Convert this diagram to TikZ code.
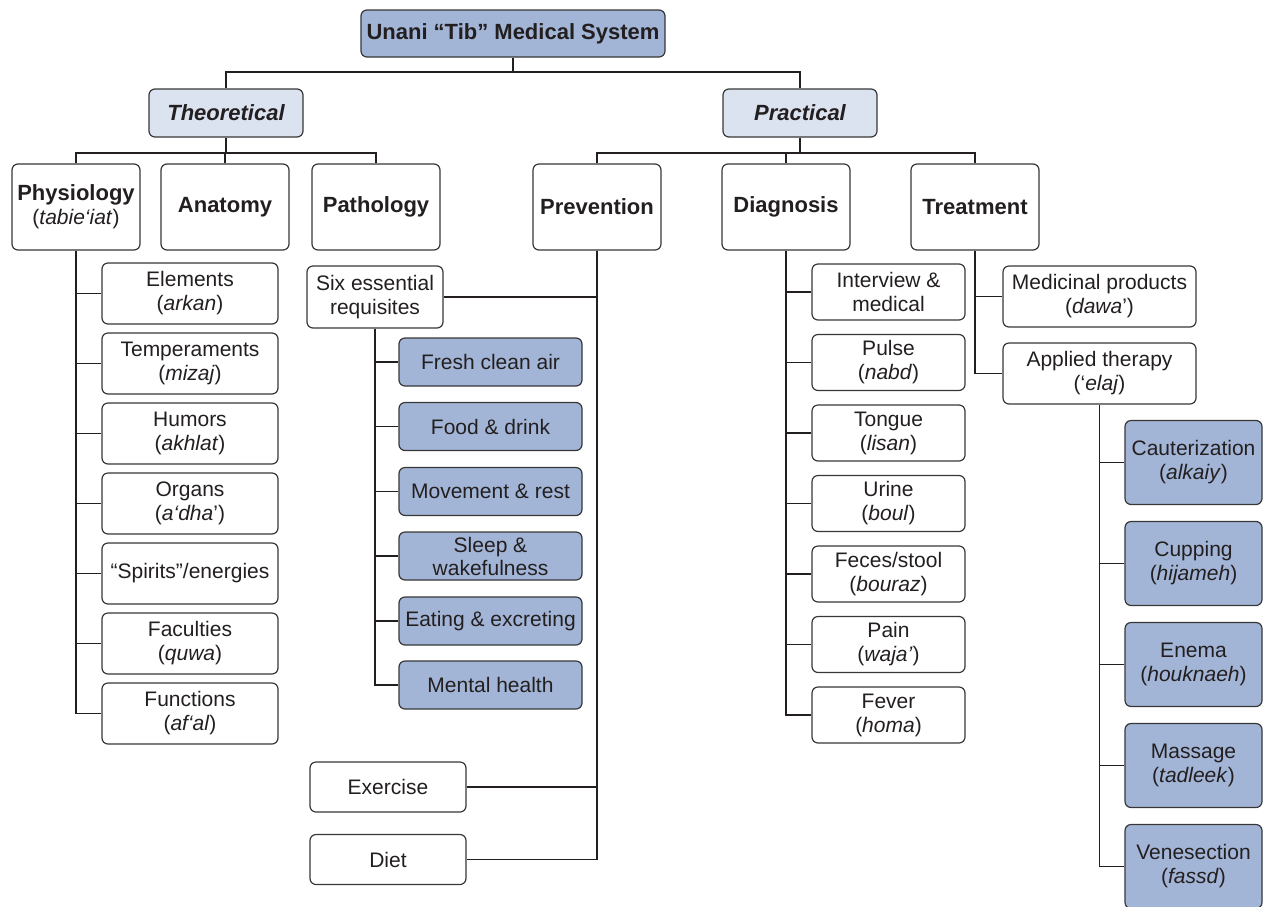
\documentclass[tikz,border=0pt]{standalone}
\usepackage{fontspec}
\setmainfont{Liberation Sans}
\definecolor{midblue}{RGB}{163,181,214}
\definecolor{paleblue}{RGB}{220,227,240}
\definecolor{boxline}{RGB}{55,55,55}
\definecolor{ink}{RGB}{35,31,32}
\begin{document}
\begin{tikzpicture}[x=1pt,y=-1pt,
  box/.style={draw=boxline, line width=1.2pt, rounded corners=6pt, fill=white,
    align=center, inner sep=1pt, text=ink, font=\fontsize{21}{24}\selectfont},
  head/.style={box, font=\bfseries\fontsize{22}{25}\selectfont},
  branch/.style={head, fill=paleblue, minimum width=154pt, minimum height=48pt,
    font=\bfseries\itshape\fontsize{22}{25}\selectfont},
  cat/.style={head, minimum width=128pt, minimum height=86pt},
  physbox/.style={box, minimum width=176pt, minimum height=61pt},
  reqbox/.style={box, fill=midblue, minimum width=183pt, minimum height=48pt},
  prevbox/.style={box, minimum width=156pt, minimum height=50pt},
  diagbox/.style={box, minimum width=153pt, minimum height=56pt},
  treatbox/.style={box, minimum width=193pt, minimum height=61pt},
  therbox/.style={box, fill=midblue, minimum width=137pt, minimum height=84pt},
  conn/.style={draw=ink, line width=1.8pt}
]
\useasboundingbox (0,0) rectangle (1263,906);

% root and the two branches
\node[head, fill=midblue, minimum width=304pt, minimum height=47pt] (root) at (513,33.5) {Unani “Tib” Medical System};
\node[branch] (theo) at (226,113) {Theoretical};
\node[branch] (prac) at (800,113) {Practical};

% categories
\node[cat] (phys) at (76,207) {Physiology\\[-1pt]{\mdseries\fontsize{21}{24}\selectfont(\textit{tabie‘iat})}};
\node[cat] (anat) at (225,207) {Anatomy};
\node[cat] (path) at (376,207) {Pathology};
\node[cat] (prev) at (597,207) {Prevention};
\node[cat] (diag) at (786,207) {Diagnosis};
\node[cat] (treat) at (975,207) {Treatment};

% physiology
\node[physbox] (p1) at (190,293.5) {Elements\\(\textit{arkan})};
\node[physbox] (p2) at (190,363.5) {Temperaments\\(\textit{mizaj})};
\node[physbox] (p3) at (190,433.5) {Humors\\(\textit{akhlat})};
\node[physbox] (p4) at (190,503.5) {Organs\\(\textit{a‘dha}’)};
\node[physbox] (p5) at (190,573.5) {“Spirits”/energies};
\node[physbox] (p6) at (190,643.5) {Faculties\\(\textit{quwa})};
\node[physbox] (p7) at (190,713.5) {Functions\\(\textit{af‘al})};

% prevention
\node[box, minimum width=136pt, minimum height=62pt] (six) at (375,297) {Six essential\\requisites};
\node[reqbox] (s1) at (490.5,362) {Fresh clean air};
\node[reqbox] (s2) at (490.5,426.5) {Food \& drink};
\node[reqbox] (s3) at (490.5,491.5) {Movement \& rest};
\node[reqbox] (s4) at (490.5,556) {Sleep \&\\[-1pt]wakefulness};
\node[reqbox] (s5) at (490.5,621) {Eating \& excreting};
\node[reqbox] (s6) at (490.5,685) {Mental health};
\node[prevbox] (exer) at (388,787) {Exercise};
\node[prevbox] (diet) at (388,859.5) {Diet};

% diagnosis
\node[diagbox] (d1) at (888.5,292) {Interview \&\\medical};
\node[diagbox] (d2) at (888.5,362.5) {Pulse\\(\textit{nabd})};
\node[diagbox] (d3) at (888.5,433) {Tongue\\(\textit{lisan})};
\node[diagbox] (d4) at (888.5,503.5) {Urine\\(\textit{boul})};
\node[diagbox] (d5) at (888.5,574) {Feces/stool\\(\textit{bouraz})};
\node[diagbox] (d6) at (888.5,644.5) {Pain\\(\textit{waja’})};
\node[diagbox] (d7) at (888.5,715) {Fever\\(\textit{homa})};

% treatment
\node[treatbox] (med) at (1099.5,296.5) {Medicinal products\\(\textit{dawa}’)};
\node[treatbox] (appl) at (1099.5,373.5) {Applied therapy\\(‘\textit{elaj})};
\node[therbox] (t1) at (1193.5,462.5) {Cauterization\\(\textit{alkaiy})};
\node[therbox] (t2) at (1193.5,563.5) {Cupping\\(\textit{hijameh})};
\node[therbox] (t3) at (1193.5,664.5) {Enema\\(\textit{houknaeh})};
\node[therbox] (t4) at (1193.5,765.5) {Massage\\(\textit{tadleek})};
\node[therbox] (t5) at (1193.5,866.5) {Venesection\\(\textit{fassd})};

% bus levels
\coordinate (busA) at (0,72);
\coordinate (busB) at (0,153);

% upper tree
\draw[conn] (root.south) -- (root.south |- busA);
\draw[conn] (theo.north) -- (theo.north |- busA) -- (prac.north |- busA) -- (prac.north);
\draw[conn] (theo.south) -- (theo.south |- busB);
\draw[conn] (phys.north) -- (phys.north |- busB) -- (path.north |- busB) -- (path.north);
\draw[conn] (anat.north) -- (anat.north |- busB);
\draw[conn] (prac.south) -- (prac.south |- busB);
\draw[conn] (prev.north) -- (prev.north |- busB) -- (treat.north |- busB) -- (treat.north);
\draw[conn] (diag.north) -- (diag.north |- busB);

% physiology trunk
\draw[conn] (phys.south) |- (p7.west);
\foreach \i in {1,...,6} \draw[conn] (phys.south |- p\i.west) -- (p\i.west);

% prevention trunk
\draw[conn] (prev.south) |- (diet.east);
\draw[conn] (six.east) -- (six.east -| prev.south);
\draw[conn] (exer.east) -- (exer.east -| prev.south);
\draw[conn] (six.south) |- (s6.west);
\foreach \i in {1,...,5} \draw[conn] (six.south |- s\i.west) -- (s\i.west);

% diagnosis trunk
\draw[conn] (diag.south) |- (d7.west);
\foreach \i in {1,...,6} \draw[conn] (diag.south |- d\i.west) -- (d\i.west);

% treatment trunk
\draw[conn] (treat.south) |- (appl.west);
\draw[conn] (med.west) -- (med.west -| treat.south);
\draw[conn] (appl.south) |- (t5.west);
\foreach \i in {1,...,4} \draw[conn] (appl.south |- t\i.west) -- (t\i.west);
\end{tikzpicture}
\end{document}
